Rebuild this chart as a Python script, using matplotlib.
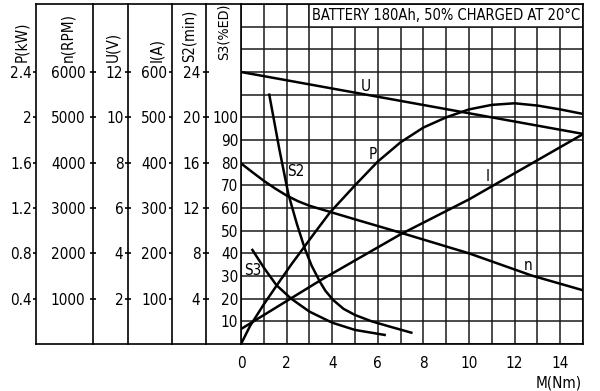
import matplotlib
matplotlib.use("Agg")
import matplotlib.pyplot as plt
from matplotlib.lines import Line2D
from matplotlib.patches import Rectangle
from matplotlib import font_manager as fm

# ---- data ----
M_U = [0, 15]
U_V = [12.0, 9.27]

M_I = [0, 3.5, 7, 10, 15]
I_A = [33, 141, 242, 319, 463]

M_n = [0, 0.5, 1, 1.5, 2, 2.5, 3, 4, 5, 7.1, 10, 12.75, 15]
n_rpm = [3985, 3790, 3600, 3430, 3275, 3150, 3050, 2900, 2750, 2440, 2000, 1510, 1185]

M_P = [0, 0.4, 1.0, 1.53, 2.2, 2.75, 3.3, 3.9, 5, 6, 7, 8, 9, 10, 11, 12, 13, 14, 15]
P_kW = [0, 0.16, 0.35, 0.506, 0.70, 0.85, 1.0, 1.16, 1.40, 1.61, 1.78, 1.91, 2.0,
        2.07, 2.11, 2.124, 2.104, 2.07, 2.03]

M_S2 = [1.24, 1.68, 2.08, 2.45, 2.8, 3.1, 3.46, 3.7, 4.04, 4.5, 5.0, 5.73, 6.5, 7.47]
S2_min = [22.0, 17.2, 13.2, 10.6, 8.4, 6.9, 5.5, 4.7, 3.88, 3.1, 2.56, 2.0, 1.55, 1.0]

M_S3 = [0.5, 1.0, 1.55, 2.2, 3.0, 4.0, 5.0, 6.3]
S3_ED = [41.5, 33.7, 26.0, 20.0, 14.3, 9.4, 6.2, 4.0]

x_ticks = [0, 2, 4, 6, 8, 10, 12, 14]
P_ticks = [0.4, 0.8, 1.2, 1.6, 2.0, 2.4]
P_labels = ['0.4', '0.8', '1.2', '1.6', '2', '2.4']
n_ticks = [1000, 2000, 3000, 4000, 5000, 6000]
U_ticks = [2, 4, 6, 8, 10, 12]
I_ticks = [100, 200, 300, 400, 500, 600]
S2_ticks = [4, 8, 12, 16, 20, 24]
S3_ticks = [10, 20, 30, 40, 50, 60, 70, 80, 90, 100]

title_text = 'BATTERY 180Ah, 50% CHARGED AT 20\u00b0C'

# ---- font choice ----
names = {f.name for f in fm.fontManager.ttflist}
cond = any(f.name == 'DejaVu Sans' and 'condensed' in str(f.stretch) for f in fm.fontManager.ttflist)
if 'Liberation Sans Narrow' in names:
    plt.rcParams['font.family'] = ['Liberation Sans Narrow', 'DejaVu Sans']
    FS = 12
elif cond:
    plt.rcParams['font.family'] = ['DejaVu Sans']
    plt.rcParams['font.stretch'] = 'condensed'
    FS = 11
else:
    plt.rcParams['font.family'] = ['DejaVu Sans']
    FS = 10

# ---- layout ----
W, H = 600, 391
LW_CURVE = 1.8
LW_GRID = 1.1
LW_FRAME = 1.2
fig = plt.figure(figsize=(W / 100, H / 100), dpi=100)

x0, x1, ytop, ybot = 241, 583, 4, 344
rect = [x0 / W, 1 - ybot / H, (x1 - x0) / W, (ybot - ytop) / H]

ax = fig.add_axes(rect)
ax.set_xlim(0, 15)
ax.set_ylim(0, 150)
ax.set_axisbelow(True)
ax.set_xticks(x_ticks)
ax.set_xticks(range(0, 16), minor=True)
ax.set_yticks(S3_ticks)
ax.set_yticks(range(0, 151, 10), minor=True)
ax.grid(True, which='both', color='#1a1a1a', lw=LW_GRID)
ax.tick_params(axis='both', which='both', length=0, labelsize=FS)
ax.tick_params(axis='x', pad=9)
ax.tick_params(axis='y', pad=2)
for s in ax.spines.values():
    s.set_linewidth(LW_FRAME)
ax.add_patch(Rectangle((3, 140), 12, 10, facecolor='white', edgecolor='#1a1a1a',
                       lw=LW_GRID, zorder=1))
title = ax.text(9, 145, title_text, ha='center', va='center', fontsize=FS)

# x label
fig.text(582 / W, 1 - 383 / H, 'M(Nm)', ha='right', va='center', fontsize=FS)

# curve labels
for lab, (mx, my) in {'U': (5.48, 113.8), 'P': (5.79, 83.4), 'I': (10.83, 73.7),
                      'n': (12.59, 34.5), 'S2': (2.41, 75.9), 'S3': (0.5, 32.6)}.items():
    ax.text(mx, my, lab, ha='center', va='center', fontsize=FS)

# S3 curve on main axes
ax.plot(M_S3, S3_ED, color='black', lw=LW_CURVE)


def overlay(ylim, ticks, labels, line_px, tick_dir, pad_px):
    a = fig.add_axes(rect, sharex=ax)
    a.patch.set_visible(False)
    a.set_ylim(*ylim)
    for k in ('right', 'top', 'bottom'):
        a.spines[k].set_visible(False)
    a.spines['left'].set_position(('outward', (x0 - line_px) * 0.72))
    a.spines['left'].set_linewidth(LW_FRAME)
    a.xaxis.set_visible(False)
    a.set_yticks(ticks)
    a.set_yticklabels(labels if labels else [str(t) for t in ticks])
    a.tick_params(axis='y', direction=tick_dir, length=4.5 if tick_dir == 'inout' else 2.5,
                  width=1.2, labelsize=FS, pad=pad_px * 0.72)
    return a


axP = overlay((0, 3.0), P_ticks, P_labels, 36, 'out', 0.5)
axn = overlay((0, 7500), n_ticks, None, 93, 'inout', 4.5)
axU = overlay((0, 15), U_ticks, None, 128, 'inout', 1.5)
axI = overlay((0, 750), I_ticks, None, 172, 'out', 1.5)
axS2 = overlay((0, 30), S2_ticks, None, 206, 'inout', 2.5)

axP.plot(M_P, P_kW, color='black', lw=LW_CURVE)
axn.plot(M_n, n_rpm, color='black', lw=LW_CURVE)
axU.plot(M_U, U_V, color='black', lw=LW_CURVE)
axI.plot(M_I, I_A, color='black', lw=LW_CURVE)
axS2.plot(M_S2, S2_min, color='black', lw=LW_CURVE)

# top / bottom frame lines across axis columns
for py in (ytop, ybot):
    fig.add_artist(Line2D([36 / W, x0 / W], [1 - py / H, 1 - py / H],
                          color='black', lw=LW_FRAME, transform=fig.transFigure))

# axis titles (rotated); max lengths in px so they stay inside the figure
ylabs = []
for lab, cx, by, tlen in [('P(kW)', 22, 62, 40), ('n(RPM)', 68, 62, 52), ('U(V)', 113, 62, 32),
                          ('I(A)', 157, 62, 27), ('S2(min)', 189, 62, 52), ('S3(%ED)', 224, 60, 56)]:
    t = fig.text(cx / W, 1 - by / H, lab, rotation=90, ha='center', va='bottom', fontsize=FS)
    ylabs.append((t, tlen))

# fit title and long axis titles to reference extents
fig.canvas.draw()
tw = title.get_window_extent().width
title.set_fontsize(FS * 268.0 / tw)
for t, tlen in ylabs:
    h = t.get_window_extent().height
    if h > tlen + 1:
        t.set_fontsize(FS * tlen / h)

fig.savefig('out.png', dpi=100, facecolor='white')
